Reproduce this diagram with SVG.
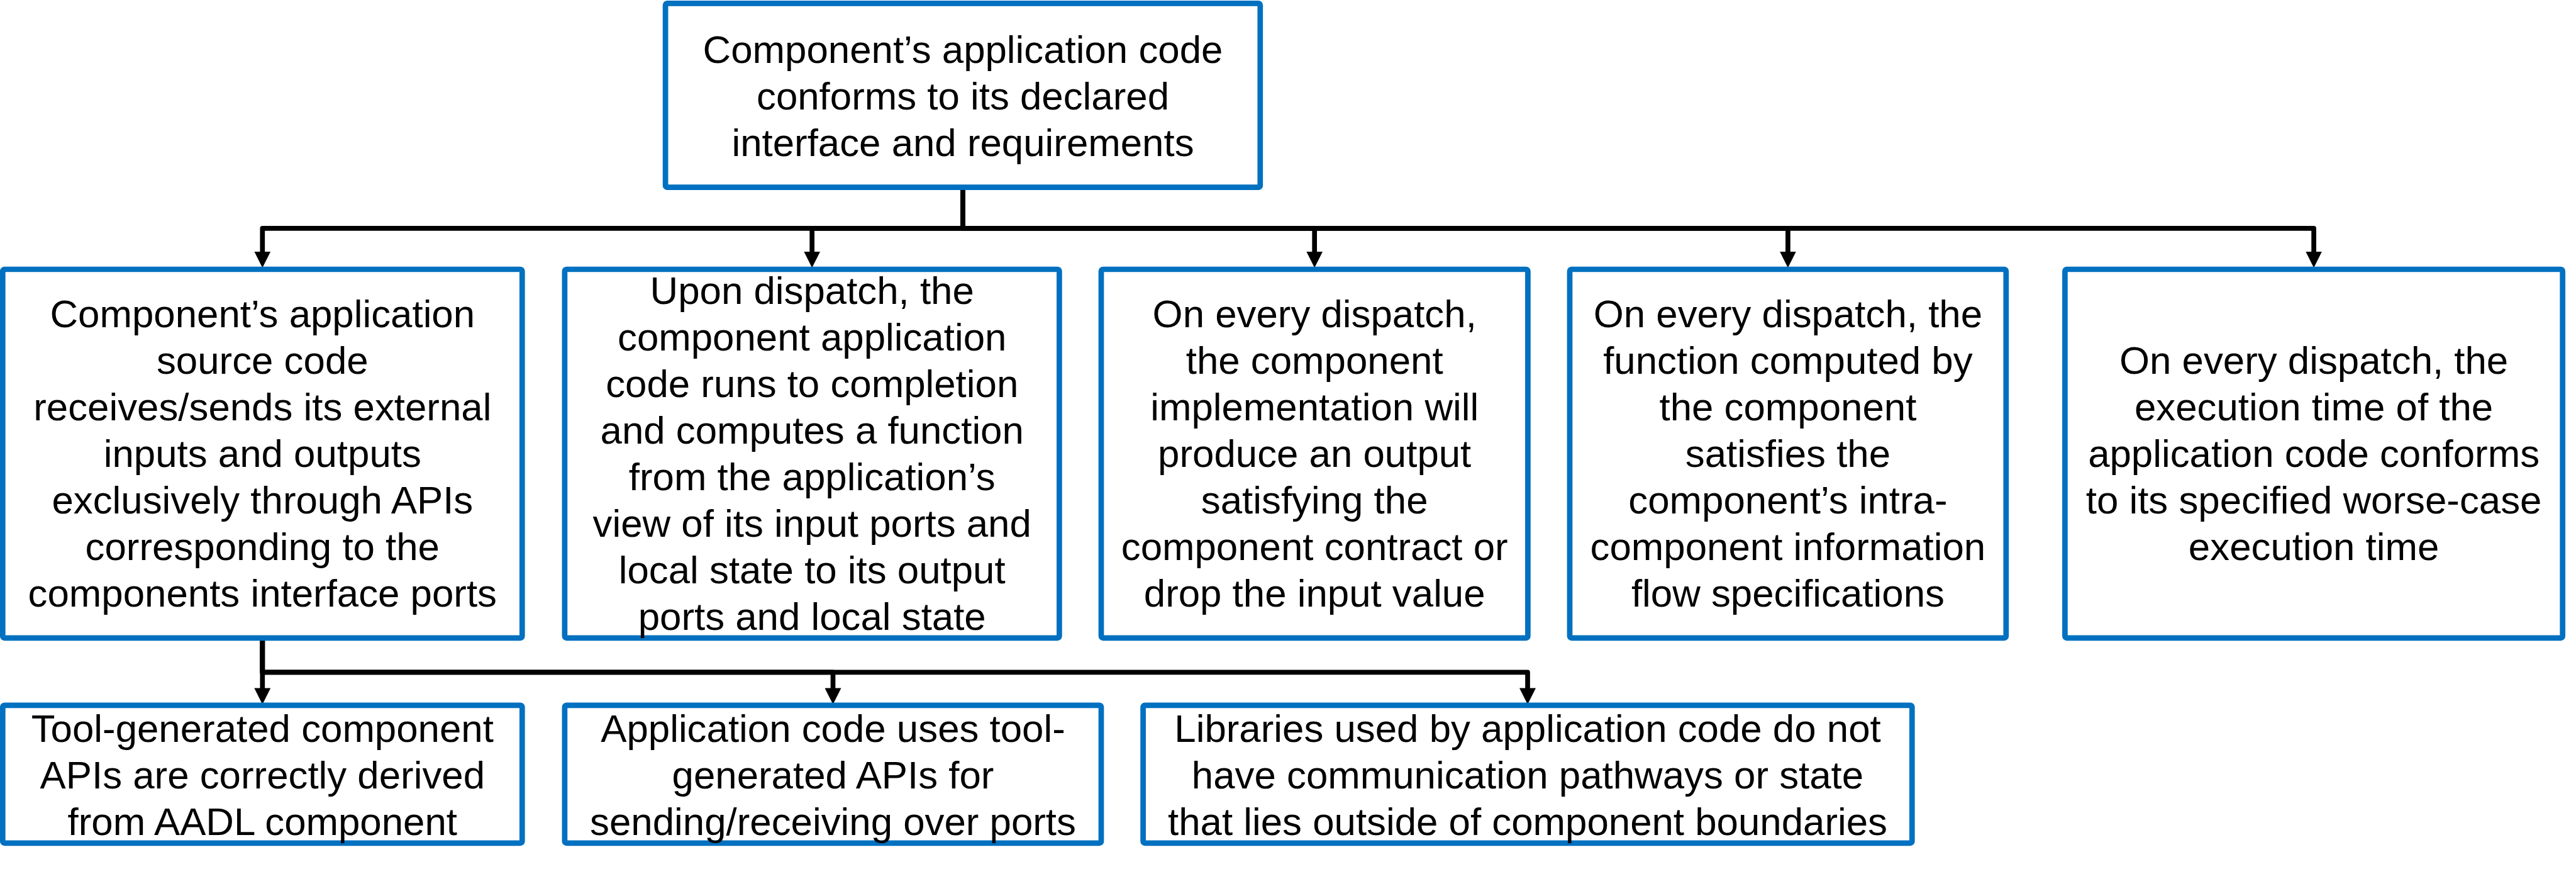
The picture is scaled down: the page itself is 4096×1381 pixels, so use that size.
<svg xmlns="http://www.w3.org/2000/svg" width="4096" height="1381" viewBox="0 0 4096 1381">
<defs>
<style>
.box{fill:#ffffff;stroke:#0070C0;stroke-width:8.7}
.t{font-family:"Liberation Sans",Arial,sans-serif;font-size:61.8px;fill:#000000;text-anchor:middle}
.c{fill:none;stroke:#000000;stroke-width:7.7;stroke-linejoin:round}
</style>
<marker id="ah" markerUnits="userSpaceOnUse" viewBox="0 0 26 26" refX="6" refY="13" markerWidth="26" markerHeight="26" orient="auto">
<path d="M0,0 L26,13 L0,26 Z" fill="#000000"/>
</marker>
</defs>
<rect width="4096" height="1381" fill="#ffffff"/>
<g id="connectors">
<path class="c" marker-end="url(#ah)" d="M1531,302 V362.8 H417.3 V405.6"/>
<path class="c" marker-end="url(#ah)" d="M1531,302 V362.8 H1291.2 V405.6"/>
<path class="c" marker-end="url(#ah)" d="M1531,302 V362.8 H2090.2 V405.6"/>
<path class="c" marker-end="url(#ah)" d="M1531,302 V362.8 H2842.9 V405.6"/>
<path class="c" marker-end="url(#ah)" d="M1531,302 V362.8 H3679.1 V405.6"/>
<path class="c" marker-end="url(#ah)" d="M417.3,1017 V1099.4"/>
<path class="c" marker-end="url(#ah)" d="M417.3,1017 V1068.3 H1324.5 V1099.4"/>
<path class="c" marker-end="url(#ah)" d="M417.3,1017 V1068.3 H2429 V1099.4"/>
</g>
<g id="root">
<rect class="box" x="1058.1" y="5.3" width="945.7" height="292.4" rx="3"/>
<text class="t" x="1531"><tspan x="1531" y="99.6">Component’s application code</tspan><tspan x="1531" y="173.7">conforms to its declared</tspan><tspan x="1531" y="247.8">interface and requirements</tspan></text>
</g>
<g id="n1">
<rect class="box" x="4.3" y="428" width="826" height="585.8" rx="3"/>
<text class="t"><tspan x="417.3" y="519.7">Component’s application</tspan><tspan x="417.3" y="593.8">source code</tspan><tspan x="417.3" y="667.9">receives/sends its external</tspan><tspan x="417.3" y="742">inputs and outputs</tspan><tspan x="417.3" y="816.1">exclusively through APIs</tspan><tspan x="417.3" y="890.2">corresponding to the</tspan><tspan x="417.3" y="964.3">components interface ports</tspan></text>
</g>
<g id="n2">
<rect class="box" x="897.9" y="428" width="786.5" height="585.8" rx="3"/>
<text class="t"><tspan x="1291.2" y="482.6">Upon dispatch, the</tspan><tspan x="1291.2" y="556.7">component application</tspan><tspan x="1291.2" y="630.8">code runs to completion</tspan><tspan x="1291.2" y="704.9">and computes a function</tspan><tspan x="1291.2" y="779">from the application’s</tspan><tspan x="1291.2" y="853.1">view of its input ports and</tspan><tspan x="1291.2" y="927.2">local state to its output</tspan><tspan x="1291.2" y="1001.3">ports and local state</tspan></text>
</g>
<g id="n3">
<rect class="box" x="1751" y="428" width="678.4" height="585.8" rx="3"/>
<text class="t"><tspan x="2090.2" y="519.7">On every dispatch,</tspan><tspan x="2090.2" y="593.8">the component</tspan><tspan x="2090.2" y="667.9">implementation will</tspan><tspan x="2090.2" y="742">produce an output</tspan><tspan x="2090.2" y="816.1">satisfying the</tspan><tspan x="2090.2" y="890.2">component contract or</tspan><tspan x="2090.2" y="964.3">drop the input value</tspan></text>
</g>
<g id="n4">
<rect class="box" x="2496" y="428" width="693.8" height="585.8" rx="3"/>
<text class="t"><tspan x="2842.9" y="519.7">On every dispatch, the</tspan><tspan x="2842.9" y="593.8">function computed by</tspan><tspan x="2842.9" y="667.9">the component</tspan><tspan x="2842.9" y="742">satisfies the</tspan><tspan x="2842.9" y="816.1">component’s intra-</tspan><tspan x="2842.9" y="890.2">component information</tspan><tspan x="2842.9" y="964.3">flow specifications</tspan></text>
</g>
<g id="n5">
<rect class="box" x="3283.4" y="428" width="791.3" height="585.8" rx="3"/>
<text class="t"><tspan x="3679.1" y="593.8">On every dispatch, the</tspan><tspan x="3679.1" y="667.9">execution time of the</tspan><tspan x="3679.1" y="742">application code conforms</tspan><tspan x="3679.1" y="816.1">to its specified worse-case</tspan><tspan x="3679.1" y="890.2">execution time</tspan></text>
</g>
<g id="n6">
<rect class="box" x="4.3" y="1120.8" width="826" height="219.1" rx="3"/>
<text class="t"><tspan x="417.3" y="1178.9">Tool-generated component</tspan><tspan x="417.3" y="1253">APIs are correctly derived</tspan><tspan x="417.3" y="1327.1">from AADL component</tspan></text>
</g>
<g id="n7">
<rect class="box" x="897.9" y="1120.8" width="853.1" height="219.1" rx="3"/>
<text class="t"><tspan x="1324.5" y="1178.9">Application code uses tool-</tspan><tspan x="1324.5" y="1253">generated APIs for</tspan><tspan x="1324.5" y="1327.1">sending/receiving over ports</tspan></text>
</g>
<g id="n8">
<rect class="box" x="1817.6" y="1120.8" width="1222.7" height="219.1" rx="3"/>
<text class="t"><tspan x="2429" y="1178.9">Libraries used by application code do not</tspan><tspan x="2429" y="1253">have communication pathways or state</tspan><tspan x="2429" y="1327.1">that lies outside of component boundaries</tspan></text>
</g>
</svg>
